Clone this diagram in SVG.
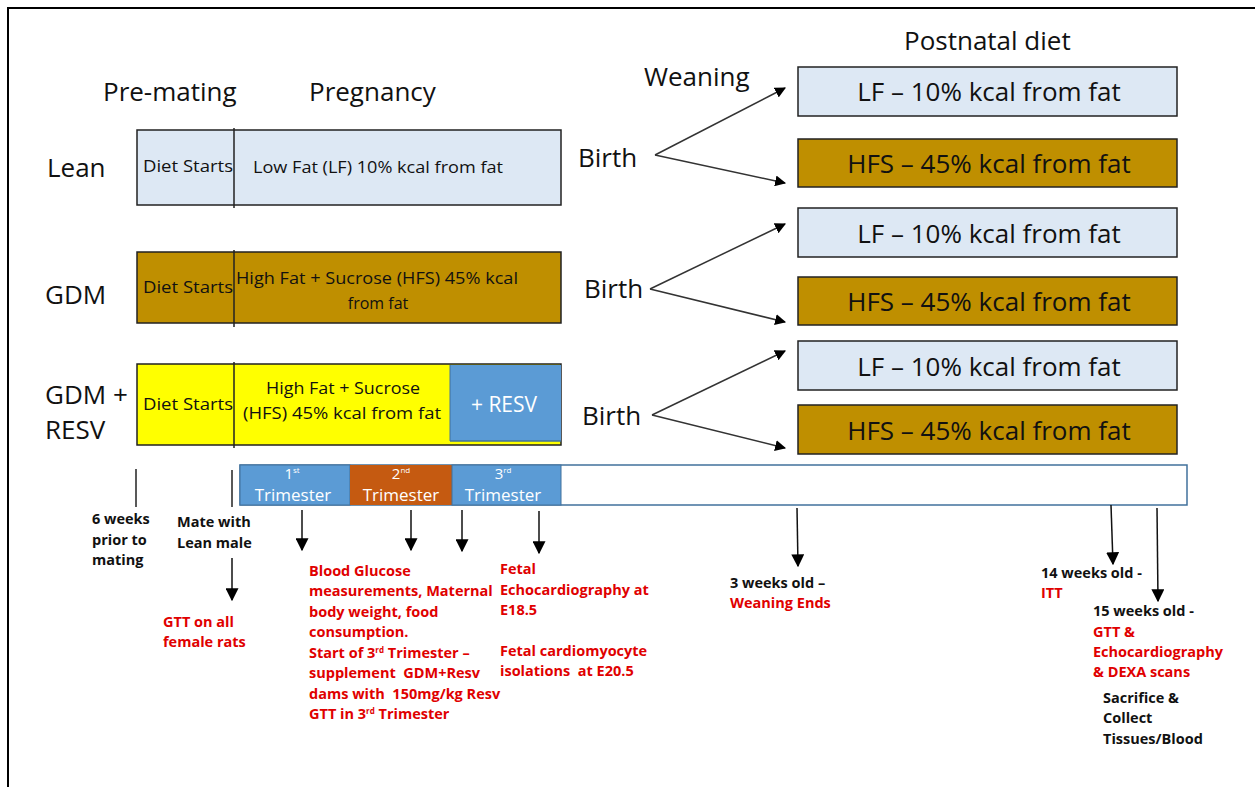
<svg xmlns="http://www.w3.org/2000/svg" width="1255" height="787" viewBox="0 0 1255 787">
<defs>
<marker id="ah" viewBox="0 0 10 10" refX="9" refY="5" markerWidth="11" markerHeight="11" markerUnits="userSpaceOnUse" orient="auto"><path d="M0,0 L10,5 L0,10 z" fill="#000"/></marker>
<marker id="ah2" viewBox="0 0 10 10" refX="9" refY="5" markerWidth="13" markerHeight="13" markerUnits="userSpaceOnUse" orient="auto"><path d="M0,0 L10,5 L0,10 z" fill="#000"/></marker>
<style>
text{font-family:"Open Sans","Noto Sans",sans-serif;fill:#111}
.big{font-size:26px}
.box{font-size:26px;text-anchor:middle}
.mid{font-size:16px;text-anchor:middle}
.sm{font-size:14.5px;font-weight:bold}
.red{fill:#e00000}
.wt{fill:#fff;text-anchor:middle}
.lf{fill:#dde8f4;stroke:#222;stroke-width:1.5}
.hf{fill:#bf8f00;stroke:#222;stroke-width:1.5}
.ln{stroke:#222;stroke-width:1.5;fill:none}
.ar{stroke:#111;stroke-width:1.5;fill:none;marker-end:url(#ah2)}
.br{stroke:#333;stroke-width:1.5;fill:none;marker-end:url(#ah)}
</style>
</defs>
<rect width="1255" height="787" fill="#fff"/>
<path d="M8,787 V8 H1255" fill="none" stroke="#000" stroke-width="2"/>

<g id="headers">
<text class="big" x="103" y="101">Pre-mating</text>
<text class="big" x="309" y="101">Pregnancy</text>
<text class="big" x="644" y="86">Weaning</text>
<text class="big" x="904" y="50">Postnatal diet</text>
</g>

<g id="group-labels">
<text class="big" x="47" y="177">Lean</text>
<text class="big" x="45" y="304">GDM</text>
<text class="big" x="45" y="404">GDM +</text>
<text class="big" x="45" y="439">RESV</text>
</g>

<g id="lean-box">
<rect class="lf" x="137" y="130" width="424" height="75"/>
<line class="ln" x1="234" y1="128" x2="234" y2="208"/>
<text class="mid" x="188" y="172" textLength="90" lengthAdjust="spacingAndGlyphs">Diet Starts</text>
<text class="mid" x="378" y="173" textLength="250" lengthAdjust="spacingAndGlyphs">Low Fat (LF) 10% kcal from fat</text>
</g>

<g id="gdm-box">
<rect class="hf" x="137" y="252" width="424" height="71"/>
<line class="ln" x1="234" y1="250" x2="234" y2="327"/>
<text class="mid" x="188" y="293" textLength="90" lengthAdjust="spacingAndGlyphs">Diet Starts</text>
<text class="mid" x="377" y="284" textLength="282" lengthAdjust="spacingAndGlyphs">High Fat + Sucrose (HFS) 45% kcal</text>
<text class="mid" x="378" y="309">from fat</text>
</g>

<g id="gdm-resv-box">
<rect x="137" y="364" width="424" height="81" fill="#ffff00" stroke="#222" stroke-width="1.5"/>
<rect x="450" y="365" width="111" height="76" fill="#5b9bd5"/>
<line x1="450" y1="441" x2="561" y2="441" stroke="#41719c" stroke-width="1.5"/>
<line x1="450" y1="365" x2="450" y2="441" stroke="#41719c" stroke-width="1"/>
<line class="ln" x1="234" y1="362" x2="234" y2="448"/>
<text class="mid" x="188" y="410" textLength="90" lengthAdjust="spacingAndGlyphs">Diet Starts</text>
<text class="mid" x="343" y="394" textLength="154" lengthAdjust="spacingAndGlyphs">High Fat + Sucrose</text>
<text class="mid" x="342" y="419" textLength="198" lengthAdjust="spacingAndGlyphs">(HFS) 45% kcal from fat</text>
<text class="wt" x="504" y="412" style="font-size:21px">+ RESV</text>
</g>

<g id="birth-labels">
<text class="big" x="578" y="167">Birth</text>
<text class="big" x="584" y="298">Birth</text>
<text class="big" x="582" y="425">Birth</text>
</g>

<g id="postnatal-boxes">
<rect class="lf" x="798" y="67" width="379" height="49"/>
<text class="box" x="989" y="101">LF – 10% kcal from fat</text>
<rect class="hf" x="798" y="139" width="379" height="48"/>
<text class="box" x="989" y="173">HFS – 45% kcal from fat</text>
<rect class="lf" x="798" y="208" width="379" height="49"/>
<text class="box" x="989" y="243">LF – 10% kcal from fat</text>
<rect class="hf" x="798" y="277" width="379" height="48"/>
<text class="box" x="989" y="311">HFS – 45% kcal from fat</text>
<rect class="lf" x="798" y="341" width="379" height="49"/>
<text class="box" x="989" y="376">LF – 10% kcal from fat</text>
<rect class="hf" x="798" y="405" width="379" height="49"/>
<text class="box" x="989" y="440">HFS – 45% kcal from fat</text>
</g>

<g id="timeline">
<rect x="240" y="465" width="947" height="40" fill="#fff" stroke="#41719c" stroke-width="1.5"/>
<rect x="240" y="465" width="110" height="40" fill="#5b9bd5" stroke="#41719c" stroke-width="1"/>
<rect x="350" y="465" width="102" height="40" fill="#c55a11"/>
<rect x="452" y="465" width="109" height="40" fill="#5b9bd5" stroke="#41719c" stroke-width="1"/>
<text class="wt" x="292" y="479" style="font-size:15px">1<tspan dy="-6" style="font-size:8px">st</tspan></text>
<text class="wt" x="293" y="501" style="font-size:17px">Trimester</text>
<text class="wt" x="401" y="479" style="font-size:15px">2<tspan dy="-6" style="font-size:8px">nd</tspan></text>
<text class="wt" x="401" y="501" style="font-size:17px">Trimester</text>
<text class="wt" x="503" y="479" style="font-size:15px">3<tspan dy="-6" style="font-size:8px">rd</tspan></text>
<text class="wt" x="503" y="501" style="font-size:17px">Trimester</text>
</g>

<g id="connectors">
<line class="br" x1="655" y1="155" x2="785" y2="88"/>
<line class="br" x1="655" y1="155" x2="785" y2="183"/>
<line class="br" x1="650" y1="289" x2="785" y2="224"/>
<line class="br" x1="650" y1="289" x2="785" y2="322"/>
<line class="br" x1="652" y1="415" x2="785" y2="351"/>
<line class="br" x1="652" y1="415" x2="785" y2="448"/>
<line class="ln" x1="136" y1="469" x2="136" y2="507"/>
<line class="ln" x1="232" y1="470" x2="232" y2="507"/>
<line class="ar" x1="232" y1="558" x2="232" y2="600"/>
<line class="ar" x1="302" y1="510" x2="302" y2="550"/>
<line class="ar" x1="411" y1="510" x2="411" y2="550"/>
<line class="ar" x1="462" y1="510" x2="462" y2="551"/>
<line class="ar" x1="539" y1="511" x2="539" y2="553"/>
<line class="ar" x1="797" y1="508" x2="798" y2="566"/>
<line class="ar" x1="1111" y1="505" x2="1113" y2="564"/>
<line class="ar" x1="1157" y1="508" x2="1158" y2="601"/>
</g>

<g id="notes">
<text class="sm" x="92" y="524">6 weeks</text>
<text class="sm" x="92" y="545">prior to</text>
<text class="sm" x="92" y="565">mating</text>
<text class="sm" x="177" y="527">Mate with</text>
<text class="sm" x="177" y="548">Lean male</text>
<text class="sm red" x="163" y="627">GTT on all</text>
<text class="sm red" x="163" y="647">female rats</text>

<text class="sm red" x="309" y="576">Blood Glucose</text>
<text class="sm red" x="309" y="596">measurements, Maternal</text>
<text class="sm red" x="309" y="617">body weight, food</text>
<text class="sm red" x="309" y="637">consumption.</text>
<text class="sm red" x="309" y="658">Start of 3<tspan dy="-5" style="font-size:8px">rd</tspan><tspan dy="5"> Trimester –</tspan></text>
<text class="sm red" x="309" y="678" xml:space="preserve">supplement  GDM+Resv</text>
<text class="sm red" x="309" y="699" xml:space="preserve">dams with  150mg/kg Resv</text>
<text class="sm red" x="309" y="719">GTT in 3<tspan dy="-5" style="font-size:8px">rd</tspan><tspan dy="5"> Trimester</tspan></text>

<text class="sm red" x="500" y="574">Fetal</text>
<text class="sm red" x="500" y="595">Echocardiography at</text>
<text class="sm red" x="500" y="615">E18.5</text>
<text class="sm red" x="500" y="656">Fetal cardiomyocyte</text>
<text class="sm red" x="500" y="676" xml:space="preserve">isolations  at E20.5</text>

<text class="sm" x="730" y="588">3 weeks old –</text>
<text class="sm red" x="730" y="608">Weaning Ends</text>

<text class="sm" x="1041" y="578">14 weeks old -</text>
<text class="sm red" x="1041" y="598">ITT</text>

<text class="sm" x="1093" y="616">15 weeks old -</text>
<text class="sm red" x="1093" y="637">GTT &amp;</text>
<text class="sm red" x="1093" y="657">Echocardiography</text>
<text class="sm red" x="1093" y="677">&amp; DEXA scans</text>

<text class="sm" x="1103" y="703">Sacrifice &amp;</text>
<text class="sm" x="1103" y="723">Collect</text>
<text class="sm" x="1103" y="744">Tissues/Blood</text>
</g>
</svg>
